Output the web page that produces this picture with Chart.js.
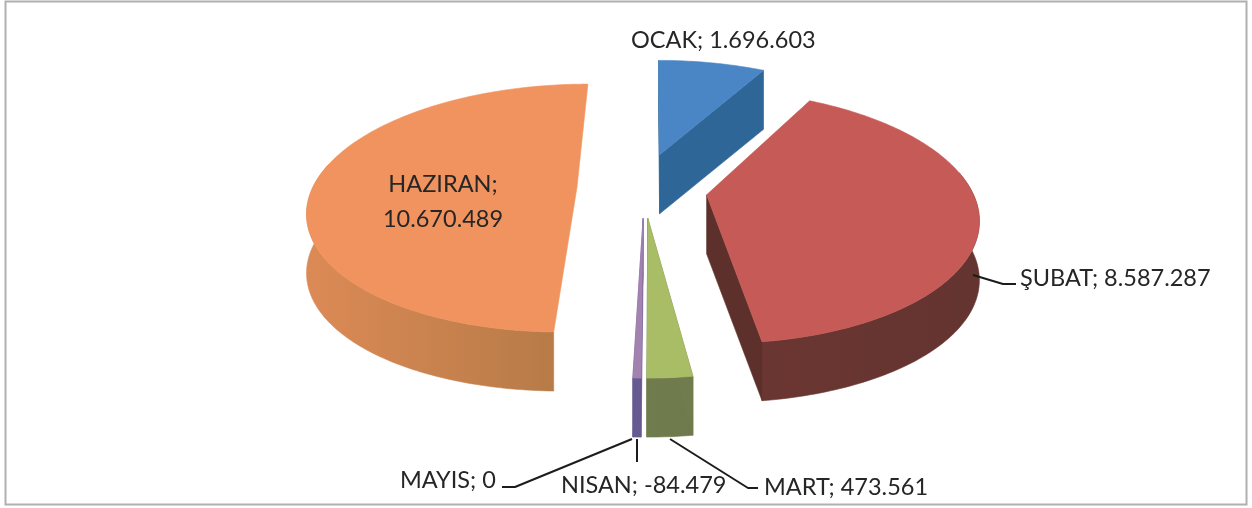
<!DOCTYPE html>
<html><head><meta charset="utf-8">
<style>html,body{margin:0;padding:0;background:#fff}canvas{display:block;filter:blur(.4px)}</style>
<script src="https://cdn.jsdelivr.net/npm/chart.js@4"></script>
</head><body>
<canvas id="c" width="1252" height="508"></canvas>
<script>
const months = ['OCAK','ŞUBAT','MART','NISAN','MAYIS','HAZIRAN'];
const values = [1696603, 8587287, 473561, -84479, 0, 10670489];
const topColors = ['#4a86c6','#c65a57','#a9bd66','#a482b0','#8064a2','#f0935f'];
const wallFrom = ['#2f6698','#6b3632','#707c4e','#665a90','#665a90','#dc8a55'];
const wallTo = ['#2b5f90','#643430','#6e7a4c','#665a90','#665a90','#b77b48'];
const sideColors = ['#2f6698','#5e302c','#707c4e','#665a90','#665a90','#c07a45'];
const explodeU = [8, 54, -4, -8.5, 0, -75];
const explodeV = [-74, 17, 66, 66, 0, 0];
const hiddenSides = [[false,false],[true,false],[false,false],[false,false],[false,false],[true,true]];
const drawOrder = [0, 5, 1, 3, 2];
const labelFont = '23.5px Lato';
const labelSpots = [
  {i:0, x:631, y:40},
  {i:1, x:1020, y:278},
  {i:2, x:764, y:487},
  {i:3, x:561, y:485},
  {i:4, x:400, y:480}
];
const leaders = [
  [[973,275],[1003,284],[1016,284]],
  [[632,439],[515,487],[502,487]],
  [[637,439],[637,462]],
  [[670,439],[748,488],[758,488]]
];
const view = {cx:652, y0:187, e:120.4, p:0.17, R:264, depth:59};

const fmt = v => String(v).replace(/\B(?=(\d{3})+(?!\d))/g,'.');
function project(u,v){
  const s = 1/(1 - view.p*v/view.R);
  return [view.cx+u*s, view.y0+(view.e/view.R)*v*s];
}
function poly(ctx,pts,fill){
  ctx.beginPath();
  pts.forEach((p,k)=>k?ctx.lineTo(p[0],p[1]):ctx.moveTo(p[0],p[1]));
  ctx.closePath();
  ctx.fillStyle=fill;ctx.fill();
  ctx.strokeStyle=fill;ctx.lineWidth=.6;ctx.stroke();
}
const pie3d = {
  id:'pie3d',
  beforeDatasetsDraw(chart){
    const ctx = chart.ctx, meta = chart.getDatasetMeta(0), d = view.depth;
    ctx.save();
    ctx.strokeStyle='#b0b0b0';ctx.lineWidth=2;ctx.strokeRect(5.5,1.5,1241,503);
    drawOrder.forEach(i=>{
      const arc = meta.data[i];
      const {startAngle:a0,endAngle:a1} = arc.getProps(['startAngle','endAngle'],true);
      if(a1-a0<=0) return;
      const ou=explodeU[i], ov=explodeV[i];
      const n=Math.max(4,Math.ceil((a1-a0)*180/Math.PI));
      const rim=[], front=[];
      for(let k=0;k<=n;k++){
        const a=a0+(a1-a0)*k/n;
        const p=project(ou+view.R*Math.cos(a),ov+view.R*Math.sin(a));
        rim.push(p);
        if(Math.sin(a)>-0.2) front.push(p);
      }
      const apex=project(ou,ov);
      const down=p=>[p[0],p[1]+d];
      if(front.length>1){
        const xs=front.map(p=>p[0]);
        const g=ctx.createLinearGradient(Math.min(...xs),0,Math.max(...xs),0);
        g.addColorStop(0,wallFrom[i]);g.addColorStop(1,wallTo[i]);
        poly(ctx,[...front,...front.slice().reverse().map(down)],g);
      }
      [rim[0],rim[n]].forEach((e,k)=>{
        if(!hiddenSides[i][k]) poly(ctx,[apex,e,down(e),down(apex)],sideColors[i]);
      });
      poly(ctx,[apex,...rim],arc.options.backgroundColor);
    });
    ctx.strokeStyle='#1c1c1c';ctx.lineWidth=2;ctx.lineJoin='round';
    leaders.forEach(l=>{
      ctx.beginPath();
      l.forEach((p,k)=>k?ctx.lineTo(p[0],p[1]):ctx.moveTo(p[0],p[1]));
      ctx.stroke();
    });
    ctx.fillStyle='#262626';ctx.font=labelFont;ctx.textBaseline='middle';
    ctx.textAlign='left';
    labelSpots.forEach(s=>ctx.fillText(months[s.i]+'; '+fmt(values[s.i]),s.x,s.y));
    ctx.textAlign='center';
    ctx.fillText(months[5]+';',443,184);
    ctx.fillText(fmt(values[5]),443,219);
    ctx.restore();
    return false;
  }
};
new Chart(document.getElementById('c'),{
  type:'pie',
  data:{labels:months,datasets:[{data:values,backgroundColor:topColors,borderWidth:0}]},
  options:{responsive:false,animation:false,rotation:0,
    plugins:{legend:{display:false},tooltip:{enabled:false}}},
  plugins:[pie3d]
});
</script>
</body></html>
